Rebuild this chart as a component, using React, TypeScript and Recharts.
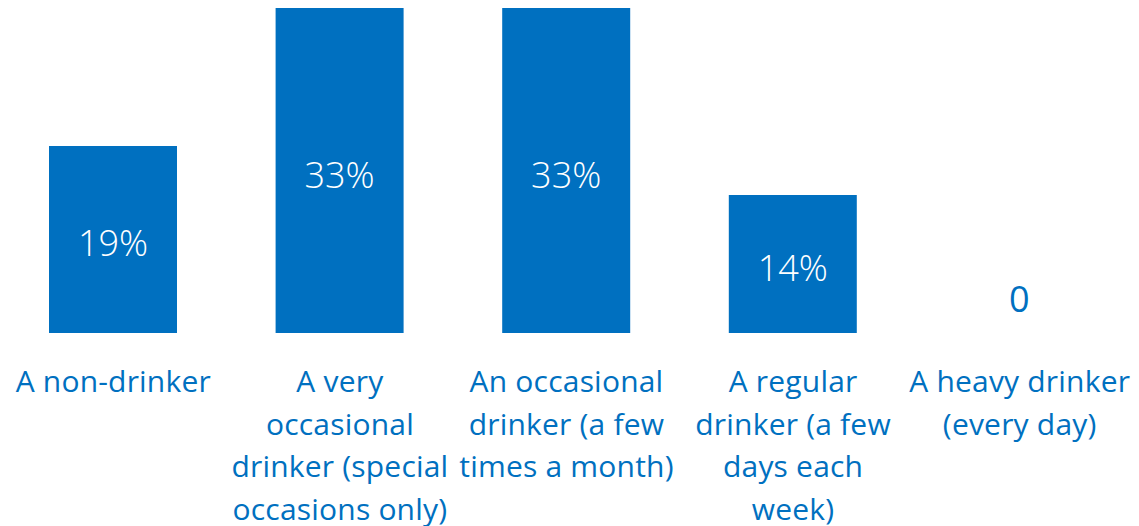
import { Bar, BarChart, LabelList, Rectangle, XAxis, YAxis } from 'recharts';

const categories = [
  'A non-drinker',
  'A very occasional drinker (special occasions only)',
  'An occasional drinker (a few times a month)',
  'A regular drinker (a few days each week)',
  'A heavy drinker (every day)',
];
const tickLines = [
  ['A non-drinker'],
  ['A very', 'occasional', 'drinker (special', 'occasions only)'],
  ['An occasional', 'drinker (a few', 'times a month)'],
  ['A regular', 'drinker (a few', 'days each', 'week)'],
  ['A heavy drinker', '(every day)'],
];
const shares = [19, 33, 33, 14, 0];

const data = categories.map((name, i) => ({ name, value: shares[i] }));

const BLUE = '#0070C0';
const FONT = '"Open Sans", "Noto Sans", sans-serif';

function CategoryTick({ x, y, index }: any) {
  const lines = tickLines[index] || [];
  return (
    <text x={x} y={y} textAnchor="middle" fill={BLUE} fontSize={30} fontFamily={FONT} letterSpacing={0.2}>
      {lines.map((l, i) => (
        <tspan key={i} x={x} dy={i === 0 ? 51 : 42.5}>{l}</tspan>
      ))}
    </text>
  );
}

function ValueLabel({ x, y, width, height, value }: any) {
  if (!value) {
    return (
      <text x={x + width / 2} y={y + height - 21} textAnchor="middle" fill={BLUE} fontSize={36} fontWeight={400} fontFamily={FONT}>
        {value}
      </text>
    );
  }
  return (
    <text x={x + width / 2} y={y + height / 2 + 17} textAnchor="middle" fill="#ffffff" fontSize={36} fontWeight={300} fontFamily={FONT}>
      {value}%
    </text>
  );
}

function BarShape(props: any) {
  if (!props.payload || !props.payload.value) return <g />;
  return <Rectangle {...props} />;
}

export default function App() {
  return (
    <div style={{ position: 'absolute', left: 0, top: 0, background: '#fff' }}>
      <BarChart width={1139} height={526} data={data} margin={{ top: 8, right: 6, bottom: 0, left: 0 }}>
        <XAxis dataKey="name" axisLine={false} tickLine={false} interval={0} height={193} tick={<CategoryTick />} />
        <YAxis hide domain={[0, 33]} />
        <Bar dataKey="value" fill={BLUE} barSize={128} minPointSize={1} shape={<BarShape />} isAnimationActive={false}>
          <LabelList dataKey="value" content={<ValueLabel />} />
        </Bar>
      </BarChart>
    </div>
  );
}
